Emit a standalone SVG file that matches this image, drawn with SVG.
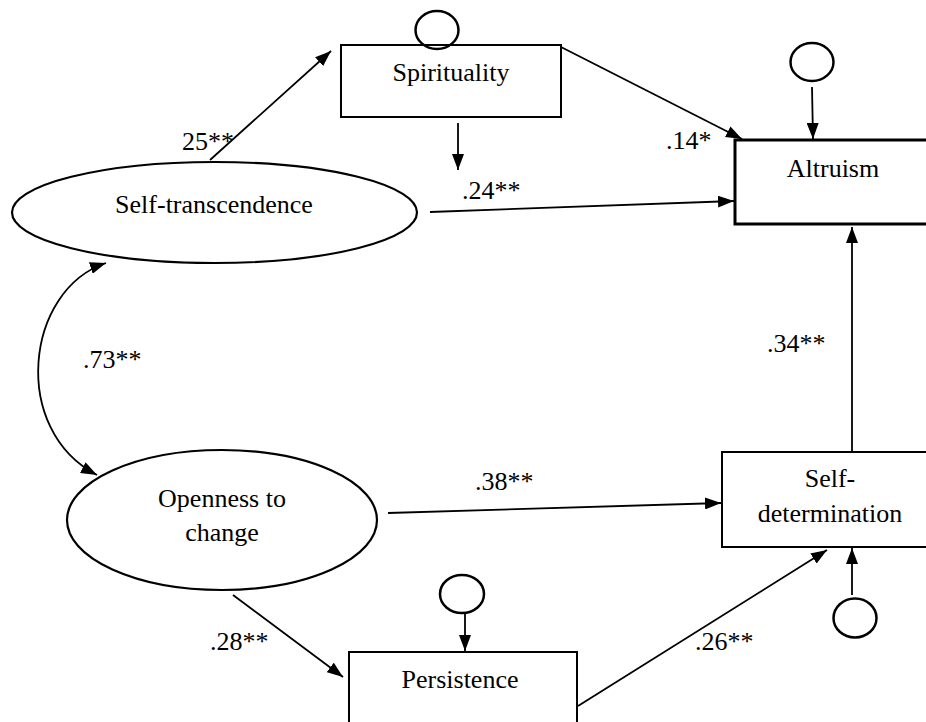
<svg xmlns="http://www.w3.org/2000/svg" width="926" height="722" viewBox="0 0 926 722" font-family="'Times New Roman', 'Liberation Serif', Times, serif" font-size="26">
<style>
.c{text-anchor:middle}
.box{fill:#fff;stroke:#000;stroke-width:2}
.ell{fill:#fff;stroke:#000;stroke-width:2.2}
.err{fill:none;stroke:#000;stroke-width:2.5}
.ln{fill:none;stroke:#000;stroke-width:1.8}
</style>
<defs>
<marker id="ah" markerUnits="userSpaceOnUse" markerWidth="16" markerHeight="12" refX="16" refY="6" orient="auto-start-reverse" viewBox="0 0 16 12">
<path d="M0,0 L16,6 L0,12 Z" fill="#000"/>
</marker>
</defs>
<rect width="926" height="722" fill="#fff"/>
<g id="connectors">
<line class="ln" x1="210" y1="160" x2="331" y2="51" marker-end="url(#ah)"/>
<line class="ln" x1="458" y1="123" x2="458" y2="170" marker-end="url(#ah)"/>
<line class="ln" x1="430" y1="212" x2="734" y2="201" marker-end="url(#ah)"/>
<line class="ln" x1="561" y1="47" x2="742" y2="139" marker-end="url(#ah)"/>
<line class="ln" x1="812" y1="87" x2="813" y2="139" marker-end="url(#ah)"/>
<line class="ln" x1="852" y1="452" x2="852" y2="227" marker-end="url(#ah)"/>
<path class="ln" d="M106,263 C25,290 10,430 97,475" marker-start="url(#ah)" marker-end="url(#ah)"/>
<line class="ln" x1="388" y1="513" x2="721" y2="503" marker-end="url(#ah)"/>
<line class="ln" x1="233" y1="595" x2="343" y2="677" marker-end="url(#ah)"/>
<line class="ln" x1="465" y1="612" x2="465" y2="651" marker-end="url(#ah)"/>
<line class="ln" x1="578" y1="706" x2="827" y2="550" marker-end="url(#ah)"/>
<line class="ln" x1="852" y1="595" x2="852" y2="548" marker-end="url(#ah)"/>
<text x="182" y="150">25**</text>
<text x="462" y="199">.24**</text>
<text x="666" y="149">.14*</text>
<text x="83" y="368">.73**</text>
<text x="767" y="352">.34**</text>
<text x="475" y="490">.38**</text>
<text x="210" y="650">.28**</text>
<text x="695" y="650">.26**</text>
</g>
<g id="spirituality">
<rect class="box" x="341" y="45" width="220" height="72"/>
<ellipse class="err" cx="437" cy="30" rx="21.5" ry="19"/>
<text class="c" x="451" y="81">Spirituality</text>
</g>
<g id="self-transcendence">
<ellipse class="ell" cx="214.5" cy="212.5" rx="202.5" ry="50.5"/>
<text class="c" x="214" y="213">Self-transcendence</text>
</g>
<g id="altruism">
<rect x="735" y="140" width="200" height="84" fill="#fff" stroke="#000" stroke-width="3"/>
<ellipse class="err" cx="812" cy="62" rx="21.5" ry="19"/>
<text class="c" x="833" y="177">Altruism</text>
</g>
<g id="openness">
<ellipse class="ell" cx="222" cy="520" rx="155" ry="70"/>
<text class="c" x="222" y="507">Openness to</text>
<text class="c" x="222" y="541">change</text>
</g>
<g id="self-determination">
<rect class="box" x="722" y="452" width="215" height="95"/>
<ellipse class="err" cx="855" cy="618" rx="21.5" ry="19.5"/>
<text class="c" x="830" y="487">Self-</text>
<text class="c" x="830" y="522">determination</text>
</g>
<g id="persistence">
<rect class="box" x="349" y="652" width="228" height="80"/>
<ellipse class="err" cx="462" cy="594" rx="22" ry="19"/>
<text class="c" x="460" y="688">Persistence</text>
</g>
</svg>
